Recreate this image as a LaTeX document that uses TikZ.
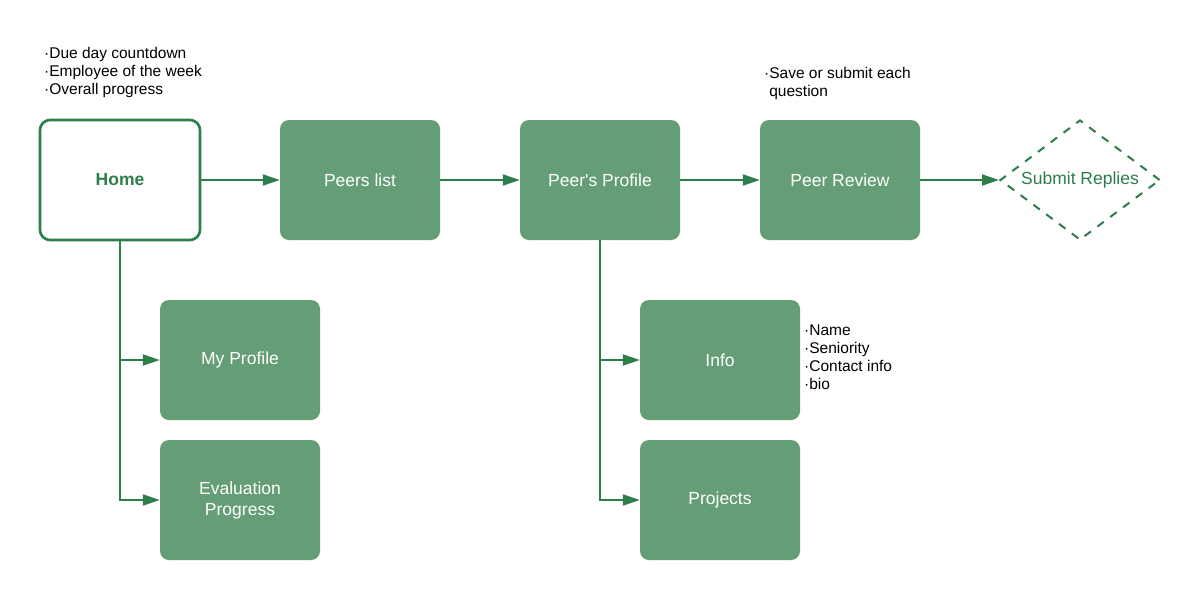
\documentclass[tikz,border=0pt]{standalone}
\usepackage{fontspec}
\setmainfont{Liberation Sans}
\usetikzlibrary{shapes.geometric,arrows.meta}
\definecolor{gfill}{HTML}{659E76}
\definecolor{gline}{HTML}{2F7D4B}
\newcommand{\straightquote}{\XeTeXglyph\XeTeXglyphindex "quotesingle" }
\tikzset{
  box/.style={draw=none, fill=gfill, rounded corners=9pt, minimum width=160pt, minimum height=120pt, text=white, font=\fontsize{17.5pt}{21pt}\selectfont, align=center, inner sep=0pt},
  homebox/.style={draw=gline, line width=2.6pt, fill=white, rounded corners=10pt, minimum width=160pt, minimum height=120pt, text=gline, font=\fontsize{17.5pt}{21pt}\selectfont\bfseries, inner sep=0pt},
  decision/.style={diamond, draw=gline, line width=2pt, dash pattern=on 8pt off 8pt, minimum width=160pt, minimum height=120pt, aspect=1.333, inner sep=0pt, text=gline, font=\fontsize{17.5pt}{21pt}\selectfont},
  conn/.style={draw=gline, line width=2pt, -{Triangle[length=17pt,width=11pt]}},
  note/.style={anchor=north west, align=left, inner sep=0pt, font=\fontsize{15.5pt}{18pt}\selectfont, text=black}
}
\begin{document}
\begin{tikzpicture}[x=1pt,y=-1pt]
\useasboundingbox (0,0) rectangle (1180,600);
\fill[white] (0,0) rectangle (1180,600);
\node[homebox] (home) at (120,180) {Home};
\node[box] (peers) at (360,180) {Peers list};
\node[box] (profile) at (600,180) {Peer\straightquote s Profile};
\node[box] (review) at (840,180) {Peer Review};
\node[decision] (submit) at (1080,180) {\raisebox{-1.5pt}{Submit Replies}};
\node[box] (myprof) at (240,360) {My Profile};
\node[box] (evalp) at (240,500) {Evaluation\\Progress};
\node[box] (info) at (720,360) {Info};
\node[box] (proj) at (720,500) {Projects};
\node[note] (n1) at (44,47) {·Due day countdown\\·Employee of the week\\·Overall progress};
\node[note] (n2) at (764,67) {·Save or submit each\\\hphantom{·}question};
\node[note] (n3) at (804,325) {·Name\\·Seniority\\·Contact info\\·bio};
\draw[conn] (home.east) -- (peers.west);
\draw[conn] (peers.east) -- (profile.west);
\draw[conn] (profile.east) -- (review.west);
\draw[conn] (review.east) -- (submit.west);
\draw[conn] (home.south) |- (myprof.west);
\draw[conn] (home.south) |- (evalp.west);
\draw[conn] (profile.south) |- (info.west);
\draw[conn] (profile.south) |- (proj.west);
\end{tikzpicture}
\end{document}
